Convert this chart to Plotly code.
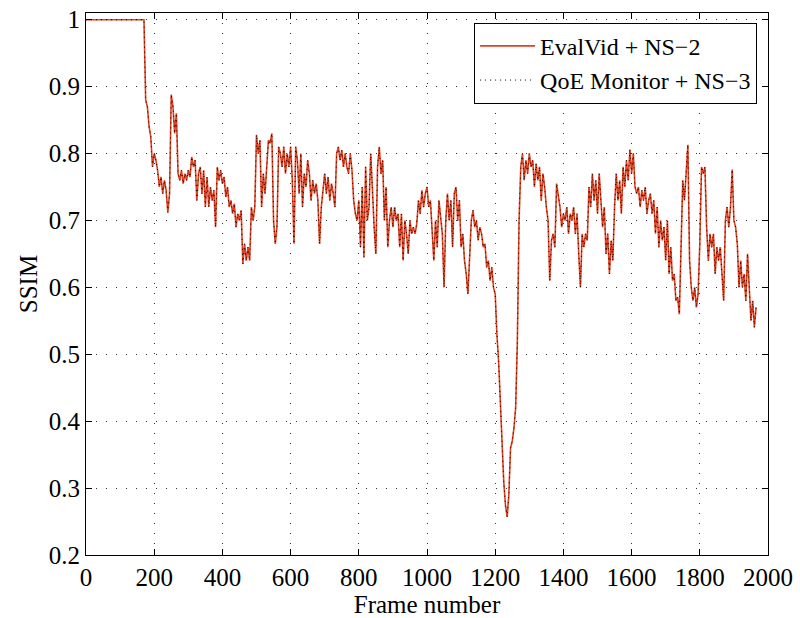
import plotly.graph_objects as go

frame_step = 5
ssim_evalvid_ns2 = [
    1.0, 1.0, 1.0, 1.0, 1.0, 1.0, 1.0, 1.0, 1.0, 1.0, 1.0, 1.0, 1.0, 1.0, 1.0, 1.0, 1.0, 1.0, 1.0, 1.0,
    1.0, 1.0, 1.0, 1.0, 1.0, 1.0, 1.0, 1.0, 1.0, 1.0, 1.0, 1.0, 1.0, 1.0, 1.0, 0.88, 0.87, 0.84, 0.825, 0.78,
    0.80, 0.79, 0.775, 0.75, 0.765, 0.74, 0.76, 0.745, 0.712, 0.74, 0.888, 0.87, 0.83, 0.86, 0.77, 0.76, 0.775, 0.755, 0.77, 0.76,
    0.775, 0.765, 0.795, 0.78, 0.79, 0.73, 0.77, 0.78, 0.74, 0.775, 0.72, 0.765, 0.72, 0.75, 0.73, 0.745, 0.69, 0.78, 0.76, 0.775,
    0.755, 0.765, 0.735, 0.75, 0.72, 0.73, 0.71, 0.725, 0.69, 0.71, 0.70, 0.715, 0.635, 0.665, 0.64, 0.66, 0.64, 0.72, 0.70, 0.72,
    0.828, 0.80, 0.82, 0.72, 0.77, 0.74, 0.78, 0.82, 0.815, 0.83, 0.70, 0.665, 0.69, 0.81, 0.80, 0.78, 0.81, 0.77, 0.80, 0.78,
    0.81, 0.76, 0.665, 0.81, 0.79, 0.74, 0.80, 0.72, 0.77, 0.75, 0.79, 0.77, 0.73, 0.76, 0.74, 0.755, 0.73, 0.665, 0.72, 0.745,
    0.77, 0.74, 0.765, 0.73, 0.755, 0.74, 0.72, 0.80, 0.81, 0.79, 0.805, 0.78, 0.80, 0.78, 0.77, 0.80, 0.775, 0.73, 0.71, 0.70,
    0.73, 0.66, 0.75, 0.645, 0.78, 0.70, 0.72, 0.80, 0.74, 0.69, 0.65, 0.78, 0.81, 0.77, 0.79, 0.70, 0.75, 0.66, 0.70, 0.72,
    0.69, 0.72, 0.70, 0.71, 0.66, 0.71, 0.64, 0.70, 0.68, 0.65, 0.70, 0.68, 0.69, 0.68, 0.695, 0.73, 0.71, 0.745, 0.72, 0.74,
    0.75, 0.72, 0.73, 0.69, 0.64, 0.70, 0.66, 0.73, 0.70, 0.68, 0.60, 0.70, 0.74, 0.70, 0.73, 0.66, 0.74, 0.75, 0.70, 0.73,
    0.66, 0.68, 0.64, 0.62, 0.59, 0.66, 0.70, 0.715, 0.69, 0.70, 0.67, 0.69, 0.68, 0.66, 0.665, 0.63, 0.64, 0.61, 0.63, 0.60,
    0.59, 0.53, 0.49, 0.43, 0.36, 0.31, 0.275, 0.257, 0.29, 0.36, 0.37, 0.39, 0.42, 0.52, 0.70, 0.78, 0.80, 0.76, 0.79, 0.77,
    0.80, 0.78, 0.79, 0.75, 0.785, 0.76, 0.78, 0.73, 0.77, 0.75, 0.72, 0.70, 0.61, 0.67, 0.68, 0.66, 0.755, 0.74, 0.72, 0.69,
    0.71, 0.70, 0.72, 0.68, 0.71, 0.70, 0.72, 0.68, 0.71, 0.65, 0.60, 0.68, 0.66, 0.68, 0.67, 0.75, 0.72, 0.77, 0.73, 0.76,
    0.71, 0.77, 0.73, 0.69, 0.72, 0.65, 0.68, 0.62, 0.67, 0.64, 0.72, 0.77, 0.73, 0.76, 0.71, 0.78, 0.75, 0.79, 0.76, 0.806,
    0.77, 0.80, 0.75, 0.74, 0.75, 0.72, 0.745, 0.73, 0.75, 0.71, 0.73, 0.74, 0.71, 0.73, 0.68, 0.72, 0.66, 0.70, 0.67, 0.69,
    0.64, 0.70, 0.62, 0.66, 0.61, 0.62, 0.58, 0.585, 0.56, 0.66, 0.76, 0.73, 0.77, 0.813, 0.64, 0.60, 0.58, 0.60, 0.57, 0.59,
    0.665, 0.78, 0.77, 0.78, 0.69, 0.64, 0.68, 0.66, 0.68, 0.62, 0.66, 0.64, 0.66, 0.62, 0.58, 0.70, 0.72, 0.69, 0.72, 0.776,
    0.70, 0.69, 0.665, 0.60, 0.64, 0.60, 0.62, 0.58, 0.65, 0.60, 0.55, 0.58, 0.54, 0.57,
]
# The two curves overlap in the reference
ssim_qoe_ns3 = list(ssim_evalvid_ns2)
frames = [i * frame_step for i in range(len(ssim_evalvid_ns2))]

x_ticks = [0, 200, 400, 600, 800, 1000, 1200, 1400, 1600, 1800, 2000]
y_ticks = [0.2, 0.3, 0.4, 0.5, 0.6, 0.7, 0.8, 0.9, 1.0]
y_tick_text = ["0.2", "0.3", "0.4", "0.5", "0.6", "0.7", "0.8", "0.9", "1"]

FONT = "Liberation Serif"
FS = 25

fig = go.Figure()
fig.add_trace(go.Scatter(
    x=frames, y=ssim_evalvid_ns2, mode="lines", name="EvalVid + NS\u22122",
    line=dict(color="#e2401f", width=1.6),
))
fig.add_trace(go.Scatter(
    x=frames, y=ssim_qoe_ns3, mode="lines", name="QoE Monitor + NS\u22123",
    line=dict(color="black", width=1, dash="1px,4px"),
))

axis_common = dict(
    showline=True, linecolor="black", linewidth=1, mirror="allticks",
    ticks="inside", ticklen=6, tickcolor="black",
    showgrid=True, gridcolor="#333", gridwidth=1, griddash="1px,9px",
    zeroline=False, tickfont=dict(family=FONT, size=FS, color="black"),
)

fig.update_layout(
    width=800, height=618,
    margin=dict(l=86, r=29, t=7, b=63),
    paper_bgcolor="white", plot_bgcolor="white",
    font=dict(family=FONT, color="black"),
    xaxis=dict(range=[0, 2000], tickvals=x_ticks,
               title=dict(text="Frame number", font=dict(family=FONT, size=FS), standoff=0),
               **axis_common),
    yaxis=dict(range=[0.2, 1.01], tickvals=y_ticks, ticktext=y_tick_text,
               title=dict(text="SSIM", font=dict(family=FONT, size=FS), standoff=4),
               **axis_common),
    legend=dict(x=0.984, y=0.982, xanchor="right", yanchor="top",
                bgcolor="white", bordercolor="black", borderwidth=1,
                font=dict(family=FONT, size=24, color="black"),
                itemwidth=55, tracegroupgap=0, valign="middle"),
    showlegend=True,
)

fig.write_html("out.html")
